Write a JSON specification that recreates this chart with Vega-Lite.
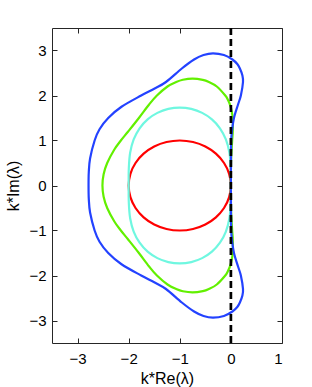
{
  "$schema": "https://vega.github.io/schema/vega-lite/v6.json",
  "width": 230,
  "height": 315,
  "autosize": {"type": "none"},
  "padding": {"left": 52, "top": 28, "right": 30, "bottom": 44},
  "background": "white",
  "config": {
    "view": {"stroke": "#262626", "strokeWidth": 1},
    "font": "Liberation Sans",
    "axis": {
      "grid": false,
      "domain": false,
      "tickSize": -5,
      "tickColor": "#262626",
      "labelFont": "Liberation Sans",
      "labelFontSize": 15,
      "labelColor": "#000000",
      "titleFont": "Liberation Sans",
      "titleFontSize": 16,
      "titleFontWeight": "normal",
      "titleColor": "#000000"
    }
  },
  "resolve": {"axis": {"x": "independent", "y": "independent"}},
  "layer": [
    {
      "data": {"values": [
        {"i": 0, "x": 0, "y": 0}, {"i": 1, "x": -0.034, "y": 0.259}, {"i": 2, "x": -0.134, "y": 0.5},
        {"i": 3, "x": -0.293, "y": 0.707}, {"i": 4, "x": -0.5, "y": 0.866}, {"i": 5, "x": -0.741, "y": 0.966},
        {"i": 6, "x": -1, "y": 1}, {"i": 7, "x": -1.259, "y": 0.966}, {"i": 8, "x": -1.5, "y": 0.866},
        {"i": 9, "x": -1.707, "y": 0.707}, {"i": 10, "x": -1.866, "y": 0.5}, {"i": 11, "x": -1.966, "y": 0.259},
        {"i": 12, "x": -2, "y": 0}, {"i": 13, "x": -1.966, "y": -0.259}, {"i": 14, "x": -1.866, "y": -0.5},
        {"i": 15, "x": -1.707, "y": -0.707}, {"i": 16, "x": -1.5, "y": -0.866}, {"i": 17, "x": -1.259, "y": -0.966},
        {"i": 18, "x": -1, "y": -1}, {"i": 19, "x": -0.741, "y": -0.966}, {"i": 20, "x": -0.5, "y": -0.866},
        {"i": 21, "x": -0.293, "y": -0.707}, {"i": 22, "x": -0.134, "y": -0.5}, {"i": 23, "x": -0.034, "y": -0.259}
      ]},
      "mark": {"type": "line", "interpolate": "cardinal-closed", "color": "#ff0000", "strokeWidth": 2.2},
      "encoding": {
        "x": {"field": "x", "type": "quantitative", "scale": {"domain": [-3.5, 1], "nice": false, "zero": false},
              "axis": {"orient": "bottom", "values": [-3, -2, -1, 0, 1], "title": "k*Re(λ)", "labelPadding": 13, "titlePadding": 4}},
        "y": {"field": "y", "type": "quantitative", "scale": {"domain": [-3.5, 3.5], "nice": false, "zero": false},
              "axis": {"orient": "left", "values": [-3, -2, -1, 0, 1, 2, 3], "title": "k*Im(λ)", "labelPadding": 11, "titlePadding": 7}},
        "order": {"field": "i", "type": "quantitative"}
      }
    },
    {
      "data": {"values": [
        {"i": 0, "x": 0, "y": 0}, {"i": 1, "x": -0.003, "y": 0.384}, {"i": 2, "x": -0.029, "y": 0.728},
        {"i": 3, "x": -0.098, "y": 1.024}, {"i": 4, "x": -0.214, "y": 1.272}, {"i": 5, "x": -0.371, "y": 1.47},
        {"i": 6, "x": -0.562, "y": 1.614}, {"i": 7, "x": -0.775, "y": 1.702}, {"i": 8, "x": -1, "y": 1.732},
        {"i": 9, "x": -1.225, "y": 1.702}, {"i": 10, "x": -1.438, "y": 1.614}, {"i": 11, "x": -1.629, "y": 1.47},
        {"i": 12, "x": -1.786, "y": 1.272}, {"i": 13, "x": -1.902, "y": 1.024}, {"i": 14, "x": -1.971, "y": 0.728},
        {"i": 15, "x": -1.997, "y": 0.384}, {"i": 16, "x": -2, "y": 0}, {"i": 17, "x": -1.997, "y": -0.384},
        {"i": 18, "x": -1.971, "y": -0.728}, {"i": 19, "x": -1.902, "y": -1.024}, {"i": 20, "x": -1.786, "y": -1.272},
        {"i": 21, "x": -1.629, "y": -1.47}, {"i": 22, "x": -1.438, "y": -1.614}, {"i": 23, "x": -1.225, "y": -1.702},
        {"i": 24, "x": -1, "y": -1.732}, {"i": 25, "x": -0.775, "y": -1.702}, {"i": 26, "x": -0.562, "y": -1.614},
        {"i": 27, "x": -0.371, "y": -1.47}, {"i": 28, "x": -0.214, "y": -1.272}, {"i": 29, "x": -0.098, "y": -1.024},
        {"i": 30, "x": -0.029, "y": -0.728}, {"i": 31, "x": -0.003, "y": -0.384}
      ]},
      "mark": {"type": "line", "interpolate": "cardinal-closed", "color": "#6ff7e0", "strokeWidth": 2.2},
      "encoding": {
        "x": {"field": "x", "type": "quantitative",
              "axis": {"orient": "top", "values": [-3, -2, -1, 0, 1], "labels": false, "title": null}},
        "y": {"field": "y", "type": "quantitative",
              "axis": {"orient": "right", "values": [-3, -2, -1, 0, 1, 2, 3], "labels": false, "title": null}},
        "order": {"field": "i", "type": "quantitative"}
      }
    },
    {
      "data": {"values": [
        {"i": 0, "x": 0, "y": 0}, {"i": 1, "x": 0.002, "y": 0.5}, {"i": 2, "x": 0.012, "y": 0.75},
        {"i": 3, "x": 0.025, "y": 1.0}, {"i": 4, "x": 0.037, "y": 1.2}, {"i": 5, "x": 0.035, "y": 1.5},
        {"i": 6, "x": 0.007, "y": 1.7}, {"i": 7, "x": -0.019, "y": 1.8}, {"i": 8, "x": -0.057, "y": 1.9},
        {"i": 9, "x": -0.11, "y": 2.0}, {"i": 10, "x": -0.276, "y": 2.2}, {"i": 11, "x": -0.43, "y": 2.3},
        {"i": 12, "x": -0.55, "y": 2.348}, {"i": 13, "x": -0.75, "y": 2.375}, {"i": 14, "x": -0.94, "y": 2.35},
        {"i": 15, "x": -1.07, "y": 2.3}, {"i": 16, "x": -1.24, "y": 2.2}, {"i": 17, "x": -1.447, "y": 2.0},
        {"i": 18, "x": -1.6, "y": 1.8}, {"i": 19, "x": -1.8, "y": 1.5}, {"i": 20, "x": -2.01, "y": 1.2},
        {"i": 21, "x": -2.153, "y": 1.0}, {"i": 22, "x": -2.28, "y": 0.8}, {"i": 23, "x": -2.42, "y": 0.5},
        {"i": 24, "x": -2.49, "y": 0.25}, {"i": 25, "x": -2.513, "y": 0}, {"i": 26, "x": -2.49, "y": -0.25},
        {"i": 27, "x": -2.42, "y": -0.5}, {"i": 28, "x": -2.28, "y": -0.8}, {"i": 29, "x": -2.153, "y": -1.0},
        {"i": 30, "x": -2.01, "y": -1.2}, {"i": 31, "x": -1.8, "y": -1.5}, {"i": 32, "x": -1.6, "y": -1.8},
        {"i": 33, "x": -1.447, "y": -2.0}, {"i": 34, "x": -1.24, "y": -2.2}, {"i": 35, "x": -1.07, "y": -2.3},
        {"i": 36, "x": -0.94, "y": -2.35}, {"i": 37, "x": -0.75, "y": -2.375}, {"i": 38, "x": -0.55, "y": -2.348},
        {"i": 39, "x": -0.43, "y": -2.3}, {"i": 40, "x": -0.276, "y": -2.2}, {"i": 41, "x": -0.11, "y": -2.0},
        {"i": 42, "x": -0.057, "y": -1.9}, {"i": 43, "x": -0.019, "y": -1.8}, {"i": 44, "x": 0.007, "y": -1.7},
        {"i": 45, "x": 0.035, "y": -1.5}, {"i": 46, "x": 0.037, "y": -1.2}, {"i": 47, "x": 0.025, "y": -1.0},
        {"i": 48, "x": 0.012, "y": -0.75}, {"i": 49, "x": 0.002, "y": -0.5}
      ]},
      "mark": {"type": "line", "interpolate": "cardinal-closed", "color": "#62f000", "strokeWidth": 2.2},
      "encoding": {
        "x": {"field": "x", "type": "quantitative", "axis": null},
        "y": {"field": "y", "type": "quantitative", "axis": null},
        "order": {"field": "i", "type": "quantitative"}
      }
    },
    {
      "data": {"values": [
        {"i": 0, "x": 0, "y": 0}, {"i": 1, "x": 0.002, "y": 0.6}, {"i": 2, "x": 0.006, "y": 1.0},
        {"i": 3, "x": 0.02, "y": 1.2}, {"i": 4, "x": 0.06, "y": 1.5}, {"i": 5, "x": 0.14, "y": 1.8},
        {"i": 6, "x": 0.195, "y": 2.0}, {"i": 7, "x": 0.237, "y": 2.3}, {"i": 8, "x": 0.224, "y": 2.45},
        {"i": 9, "x": 0.176, "y": 2.6}, {"i": 10, "x": 0.125, "y": 2.7}, {"i": 11, "x": 0.03, "y": 2.8},
        {"i": 12, "x": -0.136, "y": 2.9}, {"i": 13, "x": -0.35, "y": 2.937}, {"i": 14, "x": -0.535, "y": 2.9},
        {"i": 15, "x": -0.72, "y": 2.8}, {"i": 16, "x": -0.96, "y": 2.6}, {"i": 17, "x": -1.27, "y": 2.3},
        {"i": 18, "x": -1.5, "y": 2.15}, {"i": 19, "x": -1.755, "y": 2.0}, {"i": 20, "x": -2.14, "y": 1.75},
        {"i": 21, "x": -2.4, "y": 1.5}, {"i": 22, "x": -2.57, "y": 1.25}, {"i": 23, "x": -2.666, "y": 1.0},
        {"i": 24, "x": -2.755, "y": 0.6}, {"i": 25, "x": -2.78, "y": 0.3}, {"i": 26, "x": -2.785, "y": 0},
        {"i": 27, "x": -2.78, "y": -0.3}, {"i": 28, "x": -2.755, "y": -0.6}, {"i": 29, "x": -2.666, "y": -1.0},
        {"i": 30, "x": -2.57, "y": -1.25}, {"i": 31, "x": -2.4, "y": -1.5}, {"i": 32, "x": -2.14, "y": -1.75},
        {"i": 33, "x": -1.755, "y": -2.0}, {"i": 34, "x": -1.5, "y": -2.15}, {"i": 35, "x": -1.27, "y": -2.3},
        {"i": 36, "x": -0.96, "y": -2.6}, {"i": 37, "x": -0.72, "y": -2.8}, {"i": 38, "x": -0.535, "y": -2.9},
        {"i": 39, "x": -0.35, "y": -2.937}, {"i": 40, "x": -0.136, "y": -2.9}, {"i": 41, "x": 0.03, "y": -2.8},
        {"i": 42, "x": 0.125, "y": -2.7}, {"i": 43, "x": 0.176, "y": -2.6}, {"i": 44, "x": 0.224, "y": -2.45},
        {"i": 45, "x": 0.237, "y": -2.3}, {"i": 46, "x": 0.195, "y": -2.0}, {"i": 47, "x": 0.14, "y": -1.8},
        {"i": 48, "x": 0.06, "y": -1.5}, {"i": 49, "x": 0.02, "y": -1.2}, {"i": 50, "x": 0.006, "y": -1.0},
        {"i": 51, "x": 0.002, "y": -0.6}
      ]},
      "mark": {"type": "line", "interpolate": "cardinal-closed", "color": "#2342ff", "strokeWidth": 2.2},
      "encoding": {
        "x": {"field": "x", "type": "quantitative", "axis": null},
        "y": {"field": "y", "type": "quantitative", "axis": null},
        "order": {"field": "i", "type": "quantitative"}
      }
    },
    {
      "data": {"values": [{"x": 0}]},
      "mark": {"type": "rule", "color": "#000000", "strokeWidth": 2.7, "strokeDash": [7, 4]},
      "encoding": {"x": {"field": "x", "type": "quantitative", "axis": null}}
    }
  ]
}
